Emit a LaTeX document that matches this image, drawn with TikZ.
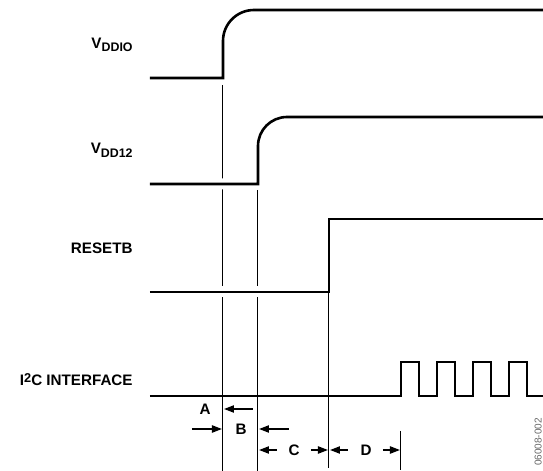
\documentclass[tikz,border=0pt]{standalone}
\usepackage{fontspec}
\setmainfont{Liberation Sans}
\usetikzlibrary{arrows.meta}

\newcommand{\sigsub}[1]{\raisebox{-0.45ex}{\fontsize{6.2}{7}\selectfont #1}}

\tikzset{
    trace/.style={line width=1.3pt, preaction={draw=white, line width=5.5pt}},
    plaintrace/.style={line width=1.3pt},
    marker/.style={line width=0.5pt},
    dim/.style={->, line width=0.8pt},
    sig/.style={font=\fontsize{7.6}{9}\selectfont\bfseries, inner sep=0pt},
}

\begin{document}
\begin{tikzpicture}[>={Triangle[length=5pt,width=3.6pt]}, x=0.5pt, y=-0.5pt]
    \useasboundingbox (0,0) rectangle (543,471);

    % Timing markers
    \coordinate (tA) at (223,471);
    \coordinate (tB) at (258,471);
    \coordinate (tC) at (329,468);
    \coordinate (tD) at (401,470);
    \draw[marker] (223,85) -- (tA);
    \draw[marker] (258,190) -- (tB);
    \draw[marker] (401,431) -- (tD);

    % VDDIO
    \node[sig, anchor=east] (vddio) at (133,45) {V\sigsub{DDIO}};
    \draw[plaintrace] (150,78) -- (223,78) -- (223,41)
        arc[start angle=180, end angle=270, radius=31] -- (543,10);

    % VDD12
    \node[sig, anchor=east] (vdd12) at (133,150) {V\sigsub{DD12}};
    \draw[trace] (150,184) -- (258,184) -- (258,146)
        arc[start angle=180, end angle=270, radius=29] -- (543,117);

    % RESETB
    \node[sig, anchor=east] (resetb) at (133,248) {RESETB};
    \draw[trace] (150,292) -- (329,292) -- (329,219) -- (543,219);
    \draw[marker] (329,292) -- (tC);

    % I2C interface
    \node[sig, anchor=east] (i2c) at (133,380) {I\raisebox{0.35ex}{\fontsize{6.4}{7}\selectfont 2}C INTERFACE};
    \draw[plaintrace] (150,396) -- (401,396) -- (401,362) -- (419,362) -- (419,396)
        -- (437,396) -- (437,362) -- (455,362) -- (455,396)
        -- (473,396) -- (473,362) -- (491,362) -- (491,396)
        -- (509,396) -- (509,362) -- (527,362) -- (527,396) -- (543,396);

    % Delays
    \node[sig] (lA) at (205,409) {A};
    \draw[dim] (253,409) -- (224,409);
    \draw[dim] (192,429) -- (222,429);
    \node[sig] (lB) at (241,429) {B};
    \draw[dim] (289,429) -- (259,429);
    \draw[dim] (277,450) -- (259,450);
    \node[sig] (lC) at (294,450) {C};
    \draw[dim] (311,450) -- (328,450);
    \draw[dim] (348,450) -- (330,450);
    \node[sig] (lD) at (366,450) {D};
    \draw[dim] (383,450) -- (400,450);

    % Figure number
    \node[rotate=90, anchor=south, font=\fontsize{5}{6}\selectfont, text=black!60, inner sep=0pt] (fig) at (542,442) {06008-002};
\end{tikzpicture}
\end{document}
